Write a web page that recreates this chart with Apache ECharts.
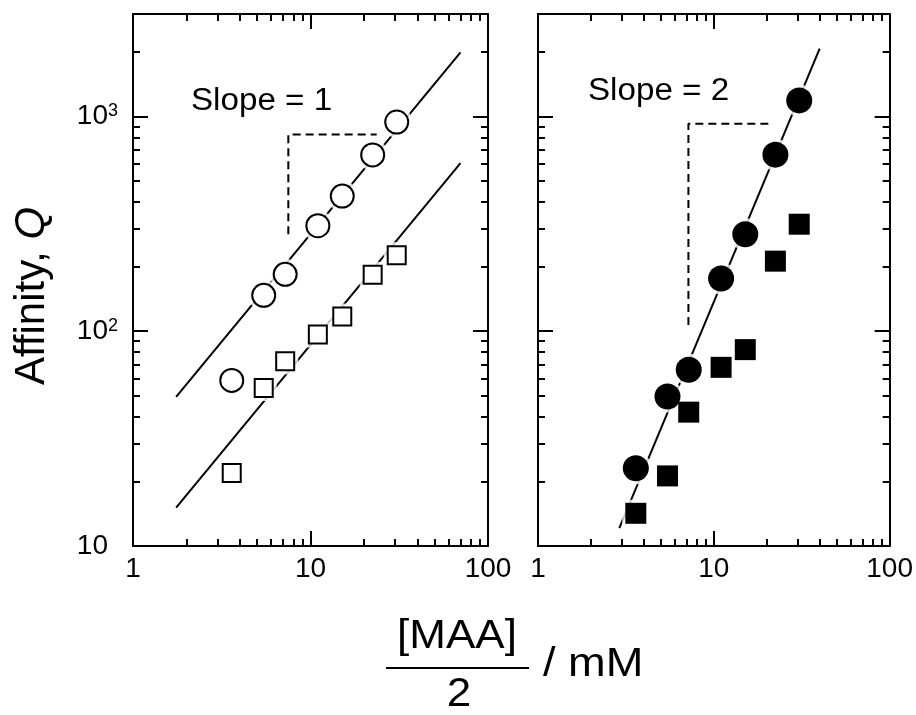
<!DOCTYPE html>
<html>
<head>
<meta charset="utf-8">
<script src="https://cdn.jsdelivr.net/npm/echarts@6/dist/echarts.min.js"></script>
<style>
html,body{margin:0;padding:0;background:#fff;}
#chart{width:916px;height:715px;}
</style>
</head>
<body>
<div id="chart"></div>
<script>
// ---- data ----
const xVals = [3.6, 5.45, 7.2, 11.0, 15.1, 22.4, 30.6];          // [MAA]/2, mM
const openCircleQ = [59, 147, 184, 310, 426, 662, 942];
const openSquareQ = [21.9, 54.4, 72.4, 96.5, 117, 183, 226];
const filledCircleQ = [23.0, 49.7, 66.2, 176, 283, 664, 1188];
const filledSquareQ = [14.2, 21.2, 42.0, 67.9, 82.1, 212, 315];

const fitLeftUpperX = [1.75, 70];
const fitLeftUpperQ = [49.5, 1990];
const fitLeftLowerX = [1.75, 70];
const fitLeftLowerQ = [15.1, 607];
const fitRightX = [2.9, 40];
const fitRightQ = [12.1, 2070];

const slopeLeftX = [7.5, 7.5, 23.6];
const slopeLeftQ = [283, 824, 824];
const slopeRightX = [7.17, 7.17, 21.8];
const slopeRightQ = [107, 924, 924];

const xTickLabels = [1, 10, 100];
const xMajorTicks = [10];
const xMinorTicks = [2, 3, 4, 5, 6, 7, 8, 9, 20, 30, 40, 50, 60, 70, 80, 90];
const yTickLabels = [10, 100, 1000];
const yLabelExp = ['', '2', '3'];
const yMajorTicks = [100, 1000];
const yMinorTicks = [20, 30, 40, 50, 60, 70, 80, 90, 200, 300, 400, 500, 600, 700, 800, 900, 2000];

const FONT = '"Liberation Sans", Arial, Helvetica, sans-serif';
const pair = (xs, ys) => xs.map((x, i) => [x, ys[i]]);

const chart = echarts.init(document.getElementById('chart'), null, {renderer: 'canvas'});

const grids = [
  {left: 133, top: 14, width: 355, height: 532},
  {left: 538, top: 14, width: 355, height: 532}
];

function xAxes(gi) {
  const base = {type: 'log', logBase: 10, min: 1, max: 100, gridIndex: gi,
    splitLine: {show: false}, axisPointer: {show: false}};
  const line = {show: true, onZero: false, lineStyle: {color: '#000', width: 2}};
  return [
    Object.assign({}, base, {position: 'bottom', axisLine: line,
      axisTick: {show: true, inside: true, length: 15, customValues: xMajorTicks, lineStyle: {color: '#000', width: 2}},
      axisLabel: {show: true, customValues: xTickLabels, fontSize: 28, color: '#000', fontFamily: FONT, margin: 9,
        showMinLabel: true, showMaxLabel: true, hideOverlap: false}}),
    Object.assign({}, base, {position: 'bottom', axisLine: {show: false},
      axisTick: {show: true, inside: true, length: 7, customValues: xMinorTicks, lineStyle: {color: '#000', width: 2}},
      axisLabel: {show: false}}),
    Object.assign({}, base, {position: 'top', axisLine: line,
      axisTick: {show: true, inside: true, length: 15, customValues: xMajorTicks, lineStyle: {color: '#000', width: 2}},
      axisLabel: {show: false}}),
    Object.assign({}, base, {position: 'top', axisLine: {show: false},
      axisTick: {show: true, inside: true, length: 7, customValues: xMinorTicks, lineStyle: {color: '#000', width: 2}},
      axisLabel: {show: false}})
  ];
}

function yAxes(gi, withLabels) {
  const base = {type: 'log', logBase: 10, min: 10, max: 3000, gridIndex: gi,
    splitLine: {show: false}, axisPointer: {show: false}};
  const line = {show: true, onZero: false, lineStyle: {color: '#000', width: 2}};
  const label = withLabels ? {
    show: true, customValues: yTickLabels, margin: 15, color: '#000', fontFamily: FONT,
    showMinLabel: true, showMaxLabel: true, hideOverlap: false,
    formatter: function (v) {
      const i = yTickLabels.indexOf(Math.round(v));
      const e = yLabelExp[i];
      return e ? '{b|10}{s|' + e + '}' : '{b|10}{h|3}';
    },
    rich: {
      b: {fontSize: 28, fontFamily: FONT, color: '#000'},
      s: {fontSize: 18, fontFamily: FONT, color: '#000', verticalAlign: 'top'},
      h: {fontSize: 18, fontFamily: FONT, color: 'rgba(0,0,0,0)', verticalAlign: 'top'}
    }
  } : {show: false};
  return [
    Object.assign({}, base, {position: 'left', axisLine: line,
      axisTick: {show: true, inside: true, length: 15, customValues: yMajorTicks, lineStyle: {color: '#000', width: 2}},
      axisLabel: label}),
    Object.assign({}, base, {position: 'left', axisLine: {show: false},
      axisTick: {show: true, inside: true, length: 7, customValues: yMinorTicks, lineStyle: {color: '#000', width: 2}},
      axisLabel: {show: false}}),
    Object.assign({}, base, {position: 'right', axisLine: line,
      axisTick: {show: true, inside: true, length: 15, customValues: yMajorTicks, lineStyle: {color: '#000', width: 2}},
      axisLabel: {show: false}}),
    Object.assign({}, base, {position: 'right', axisLine: {show: false},
      axisTick: {show: true, inside: true, length: 7, customValues: yMinorTicks, lineStyle: {color: '#000', width: 2}},
      axisLabel: {show: false}})
  ];
}

function fitLine(ax, xs, ys) {
  return {type: 'line', xAxisIndex: ax, yAxisIndex: ax, data: pair(xs, ys), showSymbol: false, symbol: 'none',
    lineStyle: {color: '#000', width: 2}, silent: true, z: 2, animation: false};
}
function dashLine(ax, xs, ys) {
  return {type: 'line', xAxisIndex: ax, yAxisIndex: ax, data: pair(xs, ys), showSymbol: false, symbol: 'none',
    lineStyle: {color: '#000', width: 2, type: [8, 5]}, silent: true, z: 2, animation: false};
}
function halo(ax, ys, symbol, size) {
  return {type: 'scatter', xAxisIndex: ax, yAxisIndex: ax, data: pair(xVals, ys), symbol: symbol, symbolSize: size,
    itemStyle: {color: '#fff', borderWidth: 0}, silent: true, z: 3, animation: false};
}
function marks(ax, ys, symbol, size, filled) {
  return {type: 'scatter', xAxisIndex: ax, yAxisIndex: ax, data: pair(xVals, ys), symbol: symbol, symbolSize: size,
    itemStyle: filled ? {color: '#000', borderWidth: 0, opacity: 1} : {color: '#fff', borderColor: '#000', borderWidth: 2, opacity: 1},
    silent: true, z: 4, animation: false};
}

const option = {
  animation: false,
  backgroundColor: '#fff',
  grid: grids,
  xAxis: xAxes(0).concat(xAxes(1)),
  yAxis: yAxes(0, true).concat(yAxes(1, false)),
  series: [
    fitLine(0, fitLeftUpperX, fitLeftUpperQ),
    fitLine(0, fitLeftLowerX, fitLeftLowerQ),
    dashLine(0, slopeLeftX, slopeLeftQ),
    halo(0, openCircleQ, 'circle', 31),
    halo(0, openSquareQ, 'rect', 26),
    marks(0, openCircleQ, 'circle', 23, false),
    marks(0, openSquareQ, 'rect', 18, false),
    fitLine(4, fitRightX, fitRightQ),
    dashLine(4, slopeRightX, slopeRightQ),
    halo(4, filledCircleQ, 'circle', 32),
    halo(4, filledSquareQ, 'rect', 27),
    marks(4, filledCircleQ, 'circle', 26, true),
    marks(4, filledSquareQ, 'rect', 21, true)
  ],
  graphic: [
    {type: 'text', x: 191, y: 101, scaleX: 1.07, z: 10,
      style: {text: 'Slope = 1', fontSize: 31, fontFamily: FONT, fill: '#000', align: 'left', verticalAlign: 'middle'}},
    {type: 'text', x: 588, y: 91, scaleX: 1.07, z: 10,
      style: {text: 'Slope = 2', fontSize: 31, fontFamily: FONT, fill: '#000', align: 'left', verticalAlign: 'middle'}},
    {type: 'text', x: 32, y: 296, rotation: Math.PI / 2, z: 10,
      style: {text: '{a|Affinity, }{q|Q}', align: 'center', verticalAlign: 'middle',
        rich: {a: {fontSize: 42, fontFamily: FONT, fill: '#000'}, q: {fontSize: 42, fontFamily: FONT, fontStyle: 'italic', fill: '#000'}}}},
    {type: 'text', x: 457, y: 637, scaleX: 1.1, z: 10,
      style: {text: '[MAA]', fontSize: 40, fontFamily: FONT, fill: '#000', align: 'center', verticalAlign: 'middle'}},
    {type: 'line', z: 10, shape: {x1: 386, y1: 668, x2: 529, y2: 668}, style: {stroke: '#000', lineWidth: 2}},
    {type: 'text', x: 459, y: 695, scaleX: 1.1, z: 10,
      style: {text: '2', fontSize: 40, fontFamily: FONT, fill: '#000', align: 'center', verticalAlign: 'middle'}},
    {type: 'text', x: 543, y: 665, scaleX: 1.13, z: 10,
      style: {text: '/ mM', fontSize: 40, fontFamily: FONT, fill: '#000', align: 'left', verticalAlign: 'middle'}}
  ]
};
chart.setOption(option);
</script>
</body>
</html>
